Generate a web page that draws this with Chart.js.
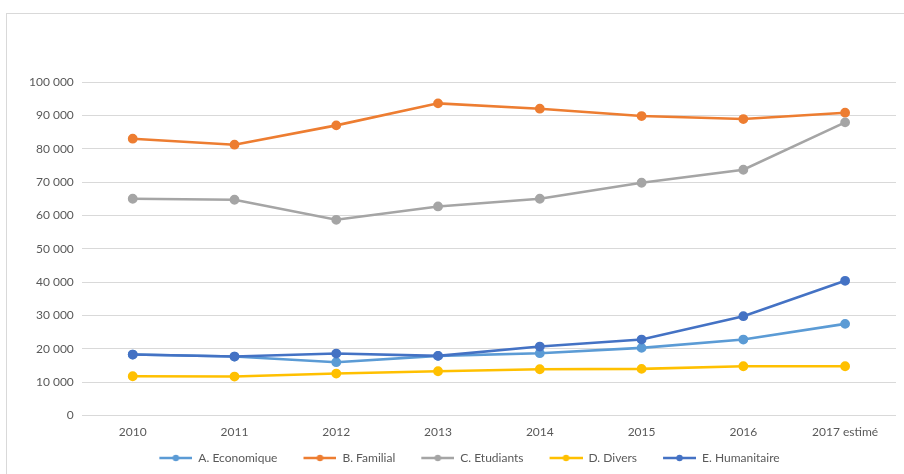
<!DOCTYPE html>
<html>
<head>
<meta charset="utf-8">
<script src="https://cdn.jsdelivr.net/npm/chart.js@4.4.1/dist/chart.umd.min.js"></script>
<style>
  html, body { margin: 0; padding: 0; background: #ffffff; }
  body { width: 904px; height: 474px; overflow: hidden; position: relative; }
  #frame { position: absolute; left: 6px; top: 13px; width: 920px; height: 480px; border: 1px solid #d9d9d9; box-sizing: border-box; }
  #wrap { position: absolute; left: 7px; top: 14px; width: 897px; height: 460px; }
</style>
</head>
<body>
<div id="frame"></div>
<div id="wrap"><canvas id="c"></canvas></div>
<script>
const categories = ['2010', '2011', '2012', '2013', '2014', '2015', '2016', '2017 estimé'];
const seriesNames = ['A. Economique', 'B. Familial', 'C. Etudiants', 'D. Divers', 'E. Humanitaire'];
const economique = [18300, 17700, 16000, 17900, 18700, 20300, 22800, 27500];
const familial = [83000, 81200, 87000, 93600, 92000, 89800, 88900, 90800];
const etudiants = [65000, 64700, 58700, 62700, 65000, 69800, 73700, 87900];
const divers = [11800, 11700, 12600, 13300, 13900, 14000, 14800, 14800];
const humanitaire = [18300, 17700, 18600, 17900, 20700, 22800, 29800, 40400];
const yTicks = [0, 10000, 20000, 30000, 40000, 50000, 60000, 70000, 80000, 90000, 100000];

const colors = ['#5B9BD5', '#ED7D31', '#A5A5A5', '#FFC000', '#4472C4'];
const values = [economique, familial, etudiants, divers, humanitaire];

const ICON_PAD = 22, ICON_LEN = 33;
function legendIcon(color) {
  const cv = document.createElement('canvas');
  cv.width = ICON_PAD + ICON_LEN; cv.height = 10;
  const g = cv.getContext('2d');
  g.strokeStyle = color; g.lineWidth = 2.5;
  g.beginPath(); g.moveTo(ICON_PAD, 5); g.lineTo(ICON_PAD + ICON_LEN, 5); g.stroke();
  g.fillStyle = color;
  g.beginPath(); g.arc(ICON_PAD + ICON_LEN / 2, 5, 3.2, 0, Math.PI * 2); g.fill();
  return cv;
}
const icons = colors.map(legendIcon);

function fmt(v) {
  return String(v).replace(/\B(?=(\d{3})+(?!\d))/g, ' ');
}

const datasets = seriesNames.map((name, i) => ({
  label: name,
  data: values[i],
  borderColor: colors[i],
  backgroundColor: colors[i],
  pointBackgroundColor: colors[i],
  pointBorderColor: colors[i],
  borderWidth: 2.6,
  pointRadius: 3.6,
  pointHoverRadius: 3.6,
  tension: 0,
  fill: false,
  order: seriesNames.length - i
}));

new Chart(document.getElementById('c'), {
  type: 'line',
  data: { labels: categories, datasets },
  options: {
    responsive: true,
    maintainAspectRatio: false,
    animation: false,
    layout: { padding: { top: 68, right: 8, left: 14, bottom: 0 } },
    plugins: {
      title: { display: false },
      tooltip: { enabled: false },
      legend: {
        position: 'bottom',
        labels: {
          usePointStyle: true,
          pointStyleWidth: ICON_PAD + ICON_LEN,
          padding: 4,
          color: '#595959',
          font: { family: 'Lato', size: 12 },
          generateLabels: (chart) => chart.data.datasets.map((ds, i) => ({
            text: ds.label,
            fillStyle: colors[i],
            strokeStyle: colors[i],
            lineWidth: 0,
            pointStyle: icons[i],
            hidden: false,
            fontColor: '#595959',
            datasetIndex: i
          }))
        }
      }
    },
    scales: {
      x: {
        offset: true,
        grid: { display: false, drawTicks: false },
        border: { display: false },
        ticks: { color: '#595959', font: { family: 'Lato', size: 12 }, padding: 9, maxRotation: 0, autoSkip: false }
      },
      y: {
        min: 0,
        max: 100000,
        afterBuildTicks: (axis) => { axis.ticks = yTicks.map(v => ({ value: v })); },
        grid: { color: '#d9d9d9', lineWidth: 1, drawTicks: false },
        border: { display: false },
        ticks: { color: '#595959', font: { family: 'Lato', size: 12 }, padding: 8, callback: (v) => fmt(v) }
      }
    }
  }
});
</script>
</body>
</html>
